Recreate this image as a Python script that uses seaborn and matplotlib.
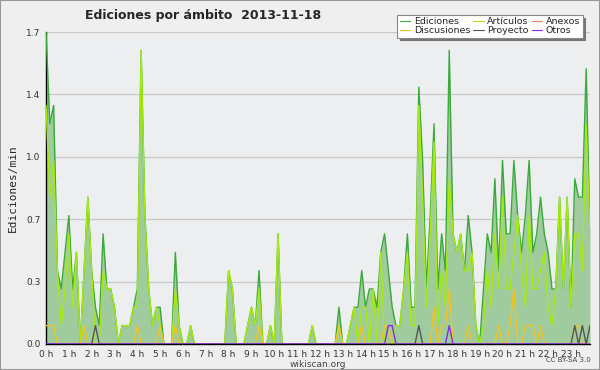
import numpy as np
import pandas as pd
import seaborn as sns
import matplotlib
matplotlib.use("Agg")
import matplotlib.pyplot as plt
from matplotlib.ticker import FixedLocator, MultipleLocator

# 10-minute slots over the day (144 slots)
slots = np.arange(144) / 6.0
hour_labels = [f"{h} h" for h in range(24)]

# edits per minute, one row per hour (6 slots each)
ediciones = [
    1.7, 1.2, 1.3, 0.4, 0.3, 0.5,
    0.7, 0.3, 0.5, 0.0, 0.4, 0.8,
    0.4, 0.2, 0.1, 0.6, 0.3, 0.3,
    0.2, 0.0, 0.1, 0.1, 0.1, 0.2,
    0.3, 1.6, 0.7, 0.3, 0.1, 0.2,
    0.2, 0.0, 0.0, 0.0, 0.5, 0.1,
    0.0, 0.0, 0.1, 0.0, 0.0, 0.0,
    0.0, 0.0, 0.0, 0.0, 0.0, 0.0,
    0.4, 0.3, 0.0, 0.0, 0.0, 0.1,
    0.2, 0.1, 0.4, 0.0, 0.0, 0.1,
    0.0, 0.6, 0.0, 0.0, 0.0, 0.0,
    0.0, 0.0, 0.0, 0.0, 0.1, 0.0,
    0.0, 0.0, 0.0, 0.0, 0.0, 0.2,
    0.0, 0.0, 0.1, 0.2, 0.2, 0.4,
    0.2, 0.3, 0.3, 0.2, 0.5, 0.6,
    0.4, 0.2, 0.1, 0.1, 0.3, 0.6,
    0.2, 0.2, 1.4, 1.0, 0.3, 0.7,
    1.2, 0.3, 0.6, 0.4, 1.6, 0.6,
    0.5, 0.6, 0.4, 0.7, 0.5, 0.1,
    0.0, 0.3, 0.6, 0.5, 0.9, 0.4,
    1.0, 0.6, 0.6, 1.0, 0.7, 0.5,
    0.7, 1.0, 0.5, 0.6, 0.8, 0.6,
    0.5, 0.3, 0.3, 0.8, 0.3, 0.8,
    0.2, 0.9, 0.8, 0.8, 1.5, 0.6,
]

articulos = [
    1.3, 0.8, 1.0, 0.4, 0.1, 0.3,
    0.6, 0.2, 0.5, 0.0, 0.4, 0.8,
    0.4, 0.0, 0.0, 0.4, 0.3, 0.3,
    0.2, 0.0, 0.1, 0.1, 0.1, 0.2,
    0.2, 1.6, 0.7, 0.3, 0.1, 0.2,
    0.1, 0.0, 0.0, 0.0, 0.3, 0.1,
    0.0, 0.0, 0.1, 0.0, 0.0, 0.0,
    0.0, 0.0, 0.0, 0.0, 0.0, 0.0,
    0.4, 0.3, 0.0, 0.0, 0.0, 0.1,
    0.2, 0.1, 0.3, 0.0, 0.0, 0.1,
    0.0, 0.6, 0.0, 0.0, 0.0, 0.0,
    0.0, 0.0, 0.0, 0.0, 0.1, 0.0,
    0.0, 0.0, 0.0, 0.0, 0.0, 0.1,
    0.0, 0.0, 0.1, 0.2, 0.0, 0.2,
    0.2, 0.0, 0.3, 0.0, 0.5, 0.0,
    0.0, 0.0, 0.1, 0.1, 0.3, 0.5,
    0.1, 0.1, 1.3, 0.8, 0.2, 0.6,
    1.1, 0.1, 0.4, 0.2, 0.9, 0.6,
    0.5, 0.6, 0.4, 0.4, 0.5, 0.1,
    0.0, 0.1, 0.4, 0.2, 0.6, 0.3,
    0.8, 0.3, 0.3, 0.5, 0.7, 0.4,
    0.2, 0.7, 0.3, 0.3, 0.4, 0.5,
    0.2, 0.1, 0.3, 0.8, 0.3, 0.8,
    0.2, 0.6, 0.6, 0.4, 1.2, 0.6,
]

# sparse series: slot index -> value
disc_idx = [0, 1, 2, 10, 24, 30, 34, 56, 77, 83, 89, 90, 102, 104, 105, 106,
            111, 119, 122, 123, 126, 127, 128, 130, 139, 140]
disc_val = [0.1, 0.1, 0.1, 0.1, 0.1, 0.1, 0.1, 0.1, 0.1, 0.1, 0.1, 0.1, 0.2, 0.1, 0.1, 0.3,
            0.1, 0.1, 0.1, 0.3, 0.1, 0.1, 0.1, 0.1, 0.1, 0.1]
proy_idx = [13, 98, 139, 141, 143]
proy_val = [0.1, 0.1, 0.1, 0.1, 0.1]
otros_idx = [90, 91, 106]
otros_val = [0.1, 0.1, 0.1]
anexos_idx = []
anexos_val = []


def sparse(idx, val):
    s = np.zeros(len(slots))
    s[idx] = val
    return s


df = pd.DataFrame({
    "t": slots,
    "Ediciones": ediciones,
    "Artículos": articulos,
    "Anexos": sparse(anexos_idx, anexos_val),
    "Discusiones": sparse(disc_idx, disc_val),
    "Proyecto": sparse(proy_idx, proy_val),
    "Otros": sparse(otros_idx, otros_val),
})

colors = {
    "Ediciones": "#3aaa3a",
    "Artículos": "#a6ea10",
    "Anexos": "#f07850",
    "Discusiones": "#f2c420",
    "Proyecto": "#555555",
    "Otros": "#8a2be2",
}

sns.set_style("white")
plt.rcParams["font.family"] = ["DejaVu Sans"]

fig = plt.figure(figsize=(6, 3.7), dpi=100, facecolor="#efefef")
ax = fig.add_axes([0.0767, 0.0703, 0.9066, 0.8432])
ax.set_facecolor("#edeef0")

ax.fill_between(df["t"], 0, df["Ediciones"], color="#9fcb9f", lw=0, zorder=1)
order = ["Ediciones", "Discusiones", "Artículos", "Proyecto", "Anexos", "Otros"]
draw = ["Ediciones", "Artículos", "Anexos", "Discusiones", "Proyecto", "Otros"]
for name in draw:
    sns.lineplot(data=df, x="t", y=name, ax=ax, color=colors[name], lw=1.0,
                 label=name, zorder=3)

ax.set_xlim(0, slots[-1])
ax.set_ylim(0, 1.7)
yt = [0, 0.34, 0.68, 1.02, 1.36, 1.7]
ax.yaxis.set_major_locator(FixedLocator(yt))
ax.set_yticklabels(["0.0", "0.3", "0.7", "1.0", "1.4", "1.7"])
ax.yaxis.set_minor_locator(MultipleLocator(0.085))
ax.set_xticks(range(24))
ax.set_xticklabels(hour_labels)
ax.xaxis.set_minor_locator(MultipleLocator(1 / 6))
ax.grid(axis="y", color="#c8c8c8", lw=0.9, zorder=0)
ax.grid(axis="x", visible=False)
ax.tick_params(axis="both", which="both", direction="out", colors="black",
               labelsize=6.5, labelcolor="#333333", pad=1)
ax.tick_params(axis="x", which="both", length=3, width=0.8)
ax.tick_params(axis="y", which="major", length=3, width=0.8)
ax.tick_params(axis="y", which="minor", length=2, width=0.8)
for side in ["top", "right"]:
    ax.spines[side].set_visible(False)
for side in ["left", "bottom"]:
    ax.spines[side].set_color("black")
    ax.spines[side].set_linewidth(1.0)
ax.set_xlabel("wikiscan.org", fontsize=6.5, color="#444444", labelpad=1)
ax.set_ylabel("Ediciones/min", fontsize=8, family="DejaVu Sans Mono", labelpad=6)

handles, labels = ax.get_legend_handles_labels()
hmap = dict(zip(labels, handles))
leg = ax.legend([hmap[n] for n in order], order, ncol=3, loc="upper right",
                bbox_to_anchor=(0.995, 1.07), fontsize=6.8, frameon=True,
                shadow={"color": "#777777", "alpha": 1.0}, fancybox=False,
                handlelength=1.1, handletextpad=0.4,
                columnspacing=0.3, labelspacing=0.0, borderpad=0.25)
leg.get_frame().set_edgecolor("#888888")
leg.get_frame().set_facecolor("white")
leg.get_frame().set_linewidth(0.8)
for line in leg.get_lines():
    line.set_linewidth(0.8)

fig.text(0.142, 0.958, "Ediciones por ámbito  2013-11-18", fontsize=9,
         fontweight="bold", ha="left", va="center")
fig.text(0.985, 0.018, "CC BY-SA 3.0", fontsize=5, color="#444444",
         ha="right", va="bottom")

fig.patches.append(plt.Rectangle((0, 0), 1, 1, transform=fig.transFigure,
                                 fill=False, edgecolor="#999999", lw=1.5))
fig.savefig("out.png", dpi=100, facecolor=fig.get_facecolor())
